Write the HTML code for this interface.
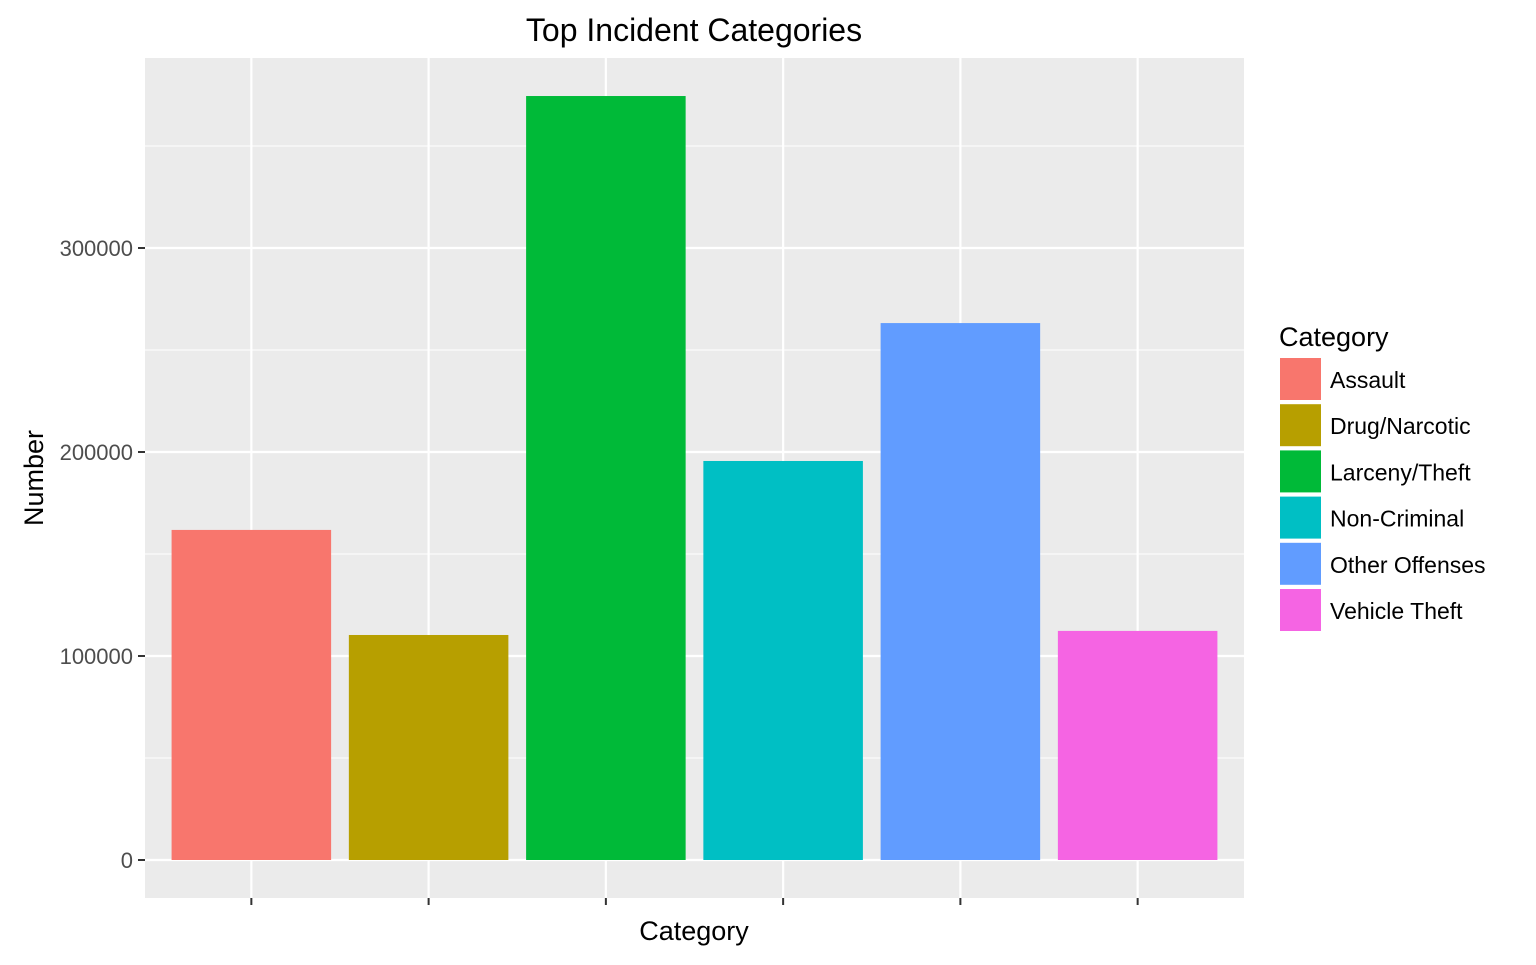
<!DOCTYPE html>
<html><head><meta charset="utf-8"><style>
body{margin:0;background:#fff;font-family:"Liberation Sans",Arial,sans-serif}
</style></head><body>
<svg id="chart" width="1536" height="960" xmlns="http://www.w3.org/2000/svg">
<text x="694" y="41" font-size="32" text-anchor="middle" fill="#000">Top Incident Categories</text>
<rect x="145" y="58" width="1099" height="840" fill="#ebebeb"/>
<g id="grid"></g><g id="bars"></g><g id="axes"></g>
<text x="694" y="940" font-size="27" text-anchor="middle" fill="#000">Category</text>
<text transform="translate(43,478) rotate(-90)" font-size="27" text-anchor="middle" fill="#000">Number</text>
<g id="legend"><text x="1279" y="346" font-size="27" fill="#000">Category</text></g>
</svg>
<script>
const categories=["Assault","Drug/Narcotic","Larceny/Theft","Non-Criminal","Other Offenses","Vehicle Theft"];
const values=[161800,110300,374500,195600,263200,112300];
const colors=["#F8766D","#B79F00","#00BA38","#00BFC4","#619CFF","#F564E3"];
const yTicks=[0,100000,200000,300000];
const yMinor=[50000,150000,250000,350000];
const NS="http://www.w3.org/2000/svg";
const px0=145,px1=1244,y0=860,ppu=204/100000;
const y=v=>y0-v*ppu;
const step=(px1-px0)/(categories.length-1+1.2);
const x=i=>px0+step*(0.6+i);
function mk(t,a,p){const e=document.createElementNS(NS,t);for(const k in a)e.setAttribute(k,a[k]);p.appendChild(e);return e;}
const g=document.getElementById('grid'),b=document.getElementById('bars'),ax=document.getElementById('axes'),lg=document.getElementById('legend');
yMinor.forEach(v=>{const l=mk('line',{x1:px0,x2:px1,y1:y(v),y2:y(v),stroke:'#fff','stroke-width':1},g);

});
yTicks.forEach(v=>{const l=mk('line',{x1:px0,x2:px1,y1:y(v),y2:y(v),stroke:'#fff','stroke-width':2.2},g);


const t=mk('line',{x1:138,x2:145,y1:y(v),y2:y(v),stroke:'#333','stroke-width':2},ax);


const tx=mk('text',{x:133,y:y(v)+8,'font-size':22,'text-anchor':'end',fill:'#4d4d4d'},ax);tx.textContent=v;

});
categories.forEach((c,i)=>{const l=mk('line',{x1:x(i),x2:x(i),y1:58,y2:898,stroke:'#fff','stroke-width':2.2},g);


const t=mk('line',{x1:x(i),x2:x(i),y1:898,y2:905,stroke:'#333','stroke-width':2},ax);


const w=step*0.9;
const r=mk('rect',{x:x(i)-w/2,y:y(values[i]),width:w,height:y0-y(values[i]),fill:colors[i]},b);


const k=mk('rect',{x:1279,y:357+i*46.2,width:43,height:44,fill:colors[i],stroke:'#fff','stroke-width':2},lg);


const lt=mk('text',{x:1330,y:388+i*46.2,'font-size':23,fill:'#000'},lg);lt.textContent=c;

});
</script>
</body></html>
